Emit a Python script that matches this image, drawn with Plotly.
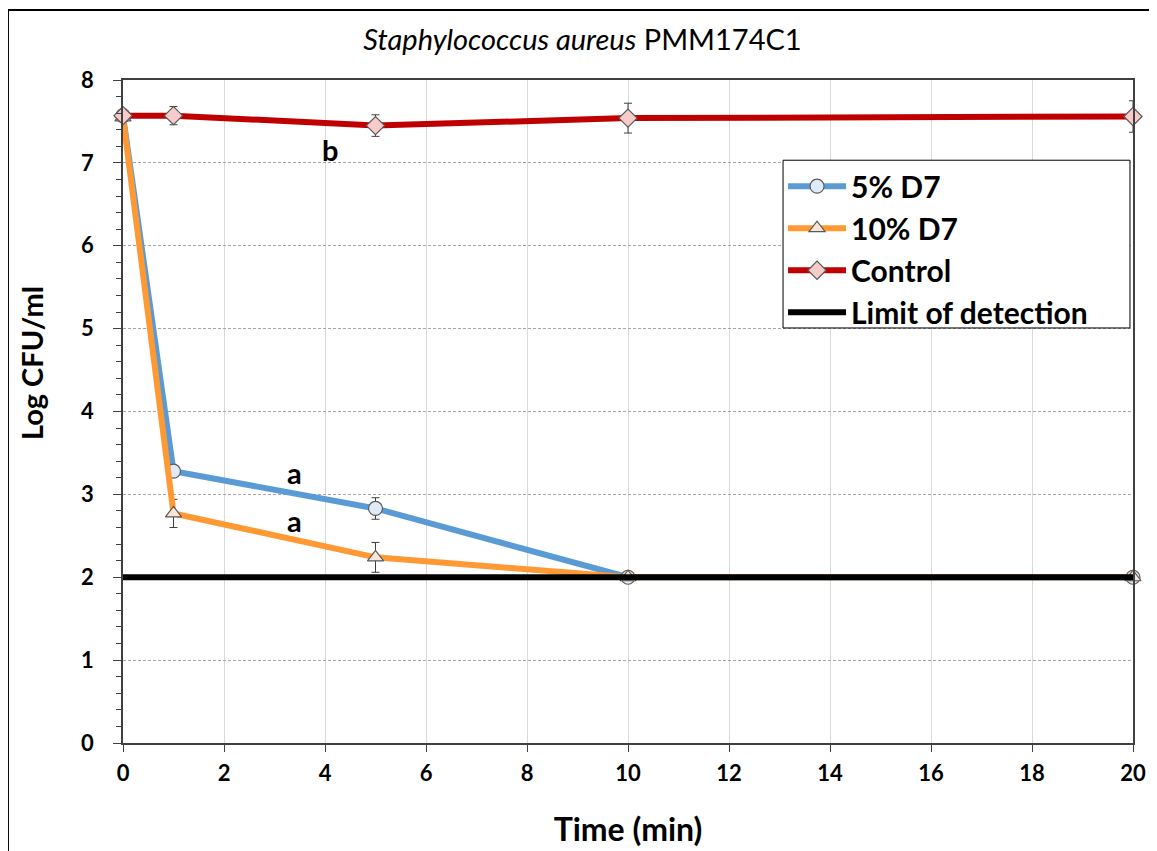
import plotly.graph_objects as go

time_min = [0, 1, 5, 10, 20]
d7_5 = [7.57, 3.28, 2.83, 2.00, 2.00]
d7_5_err = [0.03, 0.04, 0.13, 0.03, 0.03]
d7_10 = [7.55, 2.77, 2.24, 2.00, 2.00]
d7_10_err = [0.03, 0.17, 0.18, 0.02, 0.02]
control = [7.57, 7.57, 7.45, 7.54, 7.56]
control_err = [0.04, 0.11, 0.13, 0.18, 0.19]
lod_x = [0, 20]
lod_y = [2, 2]

letters = ["b", "a", "a"]
letter_x = [4.1, 3.4, 3.4]
letter_y = [7.16, 3.26, 2.69]

FONT = "Lato"
fig = go.Figure()

def series(name, y, err, color, symbol, fill):
    fig.add_trace(go.Scatter(
        x=time_min, y=y, name=name, mode="lines+markers",
        line=dict(color=color, width=6),
        marker=dict(symbol=symbol, size=14, color=fill,
                    line=dict(color="#595959", width=1.2)),
        error_y=dict(type="data", array=err, visible=True,
                     color="#404040", thickness=1, width=4),
        cliponaxis=False,
    ))

series("5% D7", d7_5, d7_5_err, "#5B9BD5", "circle", "#DEEBF7")
series("10% D7", d7_10, d7_10_err, "#FF9933", "triangle-up", "#FBE5D6")
series("Control", control, control_err, "#C00000", "diamond", "#F8CBCB")
fig.add_trace(go.Scatter(x=lod_x, y=lod_y, name="Limit of detection",
                         mode="lines", line=dict(color="black", width=6),
                         cliponaxis=False))

for t, xx, yy in zip(letters, letter_x, letter_y):
    fig.add_annotation(x=xx, y=yy, text="<b>%s</b>" % t, showarrow=False,
                       font=dict(family=FONT, size=29, color="black"))

# y axis title placed like the original (off-centre)
fig.add_annotation(xref="paper", yref="paper", x=-0.0911, y=0.573,
                   text="<b>Log CFU/ml</b>", textangle=-90, showarrow=False,
                   xanchor="center", yanchor="middle",
                   font=dict(family=FONT, size=29, color="black"))

# outer chart border
fig.add_shape(type="rect", xref="paper", yref="paper",
              x0=-0.1139, y0=-0.3, x1=1.2, y1=1.1056,
              line=dict(color="black", width=2), layer="below")
# legend frame
fig.add_shape(type="rect", xref="paper", yref="paper",
              x0=0.6535, y0=0.626, x1=0.997, y1=0.879,
              line=dict(color="black", width=1), fillcolor="white", layer="above")

fig.update_layout(
    width=1149, height=843,
    margin=dict(l=115, r=24, t=72, b=108),
    paper_bgcolor="white", plot_bgcolor="white",
    font=dict(family=FONT, color="black"),
    title=dict(text="<i>Staphylococcus aureus</i> PMM174C1",
               x=0.5, xanchor="center", y=0.962, yanchor="middle",
               font=dict(family=FONT, size=29, color="black")),
    legend=dict(x=0.6535, y=0.879, xanchor="left", yanchor="top",
                borderwidth=0, bgcolor="rgba(0,0,0,0)",
                font=dict(family=FONT, size=30, color="black", weight="bold"),
                tracegroupgap=0, itemwidth=58),
    showlegend=True,
)

fig.update_xaxes(range=[0, 20], dtick=2, tick0=0, automargin=False,
                 showline=True, linecolor="#404040", linewidth=1.5, mirror=True,
                 ticks="outside", ticklen=7, tickcolor="#404040",
                 ticklabelstandoff=3,
                 showgrid=True, gridcolor="#D9D9D9", gridwidth=1,
                 zeroline=False,
                 tickfont=dict(family=FONT, size=22, color="black", weight="bold"),
                 title=dict(text="<b>Time (min)</b>", standoff=33,
                            font=dict(family=FONT, size=32, color="black")))
fig.update_yaxes(range=[0, 8], dtick=1, tick0=0, automargin=False,
                 showline=True, linecolor="#404040", linewidth=1.5, mirror=True,
                 ticks="outside", ticklen=8, tickcolor="#404040",
                 ticklabelstandoff=15,
                 showgrid=True, gridcolor="#A6A6A6", gridwidth=1, griddash="3px,2px",
                 zeroline=False,
                 minor=dict(dtick=0.2, ticks="outside", ticklen=5,
                            tickcolor="#404040", showgrid=False),
                 tickfont=dict(family=FONT, size=22, color="black", weight="bold"))

fig.write_html("out.html")
